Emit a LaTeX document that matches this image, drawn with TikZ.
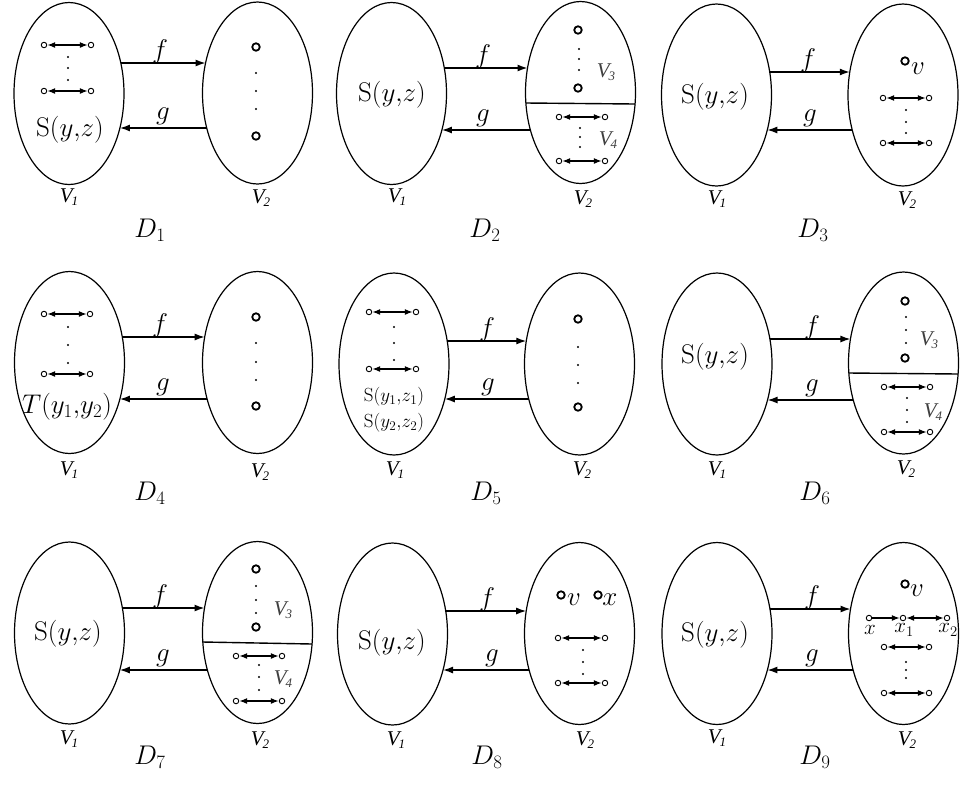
\RequirePackage{fix-cm}
\documentclass[tikz,border=0pt]{standalone}
\usepackage{fontspec}
\newfontfamily\tms{Liberation Serif}
\usetikzlibrary{shapes.geometric,arrows.meta,calc}

\tikzset{
  ell/.style={ellipse,draw,line width=1.2pt,minimum width=110pt,minimum height=182pt,inner sep=0pt},
  farr/.style={line width=1.4pt,-{Latex[length=10pt,width=7pt]}},
  darr/.style={line width=1.3pt,{Latex[length=8pt,width=6pt]}-{Latex[length=8pt,width=6pt]}},
  sarr/.style={line width=1.3pt,-{Latex[length=8pt,width=6pt]}},
  sepl/.style={line width=1.4pt},
  sv/.style={circle,draw,line width=0.9pt,inner sep=0pt,minimum size=5.5pt},
  bv/.style={circle,draw,line width=1.8pt,inner sep=0pt,minimum size=7.5pt},
  bigt/.style={font=\fontsize{27}{29}\selectfont,inner sep=0pt},
  labsm/.style={font=\fontsize{19}{21}\selectfont,inner sep=0pt},
  labx/.style={font=\fontsize{21}{23}\selectfont,inner sep=0pt},
  vl/.style={font={\tms\itshape\fontsize{21}{22}\selectfont},inner sep=0pt},
  vlg/.style={font={\tms\itshape\fontsize{21}{22}\selectfont},inner sep=0pt,text=black!75},
  dl/.style={font=\fontsize{27}{29}\selectfont,inner sep=0pt},
}

\newcommand\VV[1]{V\kern-1pt\raisebox{-0.35ex}{\fontsize{13}{13}\selectfont #1}}
\newcommand\dts[4]{\fill (#1,#2) circle (1.2pt) (#1,#3) circle (1.2pt) (#1,#4) circle (1.2pt);}
\newcommand\dbl[4]{\node[sv] (#1a) at (#2,#4) {}; \node[sv] (#1b) at (#3,#4) {}; \draw[darr] (#1a) -- (#1b);}
\newcommand\skel[9]{%
  \node[ell] (#1L) at (#2,#3) {};
  \node[ell] (#1R) at (#4,#5) {};
  \pgfmathsetmacro\aL{55*sqrt(1-((#6-#3)/91)^2)}%
  \pgfmathsetmacro\aR{55*sqrt(1-((#6-#5)/91)^2)}%
  \pgfmathsetmacro\bL{55*sqrt(1-((#7-#3)/91)^2)}%
  \pgfmathsetmacro\bR{55*sqrt(1-((#7-#5)/91)^2)}%
  \draw[farr] ($(#1L)+(\aL,#6-#3)$) -- ($(#1R)+(-\aR,#6-#5)$);
  \draw[farr] ($(#1R)+(-\bR,#7-#5)$) -- ($(#1L)+(\bL,#7-#3)$);
  \node[bigt] (#1f) at (#8,#6-11) {$f$};
  \node[bigt] (#1g) at (#9,#7-12) {$g$};
}
\newcommand\labs[8]{%
  \node[vl] (#1v1) at (#2,#3) {\VV{1}};
  \node[vl] (#1v2) at (#4,#5) {\VV{2}};
  \node[dl] (#1D) at (#6,#7) {$D_{#8}$};
}
\newcommand\sep[3]{\draw[sepl] ($(#1R)+({-55*sqrt(1-(#2/91)^2)},#2)$) -- ($(#1R)+({55*sqrt(1-(#3/91)^2)},#3)$);}
\newcommand\Syz{$\mathrm{S}(y{,}z)$}

\begin{document}
\begin{tikzpicture}[x=1pt,y=-1pt]
\useasboundingbox (0,0) rectangle (960,788);
\fill[white] (0,0) rectangle (960,788);

% D1
\skel{a}{69}{93.5}{257.5}{93}{63}{128}{160}{163}
\dbl{a1}{44}{91}{45} \dbl{a2}{44}{91}{91}
\dts{68}{57}{68}{80}
\node[bigt] (aS) at (70,130) {\Syz};
\node[bv] (au) at (256,47) {}; \node[bv] (aw) at (256,136) {};
\dts{256}{73}{91}{109}
\labs{a}{69}{197}{261}{198}{150}{230}{1}

% D2
\skel{b}{391.5}{93.5}{580.5}{92.5}{68}{130}{483}{483}
\node[bigt] (bS) at (392,95) {\Syz};
\node[bv] (bu) at (578,30) {}; \node[bv] (bw) at (578,88) {};
\dts{579}{49}{59}{70}
\node[vlg] (bv3) at (606,72) {\VV{3}};
\sep{b}{10.5}{11.5}
\dbl{b1}{559}{605}{117} \dbl{b2}{559}{605}{161}
\dts{580}{128}{137}{147}
\node[vlg] (bv4) at (608,140) {\VV{4}};
\labs{b}{397}{197}{583}{199}{485}{230}{2}

% D3
\skel{c}{716.5}{95}{903}{95}{72}{130}{808}{810}
\node[bigt] (cS) at (715,97) {\Syz};
\node[bv] (cu) at (905,61) {}; \node[bigt] (cvl) at (918,69) {$v$};
\dbl{c1}{883}{929}{98} \dbl{c2}{883}{929}{143}
\dts{906}{110}{122}{133}
\labs{c}{717}{199}{907}{200}{813}{230}{3}

% D4
\skel{d}{69.5}{362.5}{257.5}{362.5}{337}{399}{160}{163}
\dbl{d1}{44}{90}{314} \dbl{d2}{44}{90}{374}
\dts{68}{327}{345}{363}
\node[bigt] (dT) at (67,407) {$T(y_1{,}y_2)$};
\node[bv] (du) at (256,317) {}; \node[bv] (dw) at (256,406) {};
\dts{256}{343}{362}{380}
\labs{d}{69}{470}{260}{472}{150}{493}{4}

% D5
\skel{e}{394}{364}{579.5}{364}{341}{399}{487}{488}
\dbl{e1}{369}{416}{312} \dbl{e2}{369}{416}{369}
\dts{394}{327}{343}{360}
\node[labsm] (eS1) at (394,397) {$\mathrm{S}(y_1{,}z_1)$};
\node[labsm] (eS2) at (394,423) {$\mathrm{S}(y_2{,}z_2)$};
\node[bv] (eu) at (578,319) {}; \node[bv] (ew) at (578,407) {};
\dts{578}{347}{365}{383}
\labs{e}{395}{470}{582}{470}{486}{493}{5}

% D6
\skel{f}{717}{364}{903.5}{363}{339}{400}{812}{812}
\node[bigt] (fS) at (715,357) {\Syz};
\node[bv] (fu) at (905,301) {}; \node[bv] (fw) at (905,358) {};
\dts{906}{317}{330}{343}
\node[vlg] (fv3) at (929,340) {\VV{3}};
\sep{f}{10}{11}
\dbl{f1}{884}{930}{387} \dbl{f2}{884}{930}{432}
\dts{907}{398}{410}{422}
\node[vlg] (fv4) at (933,412) {\VV{4}};
\labs{f}{717}{470}{906}{469}{815}{493}{6}

% D7
\skel{g}{69.5}{633}{257.5}{632.5}{608}{670}{160}{163}
\node[bigt] (gS) at (68,634) {\Syz};
\node[bv] (gu) at (256,569) {}; \node[bv] (gw) at (256,627) {};
\dts{256}{586}{600}{613}
\node[vlg] (gv3) at (283,610) {\VV{3}};
\sep{g}{9.5}{11.5}
\dbl{g1}{236}{282}{656} \dbl{g2}{236}{282}{701}
\dts{259}{665}{677}{690}
\node[vlg] (gv4) at (283,679) {\VV{4}};
\labs{g}{69}{739}{260}{740}{150}{757}{7}

% D8
\skel{h}{392.5}{634}{579.5}{633.5}{611}{670}{487}{492}
\node[bigt] (hS) at (392,643) {\Syz};
\node[bv] (hu) at (561,595) {}; \node[bigt] (hvl) at (574,600) {$v$};
\node[bv] (hx) at (598,595) {}; \node[bigt] (hxl) at (610,600) {$x$};
\dbl{h1}{558}{605}{638} \dbl{h2}{558}{605}{683}
\dts{583}{650}{662}{674}
\labs{h}{396}{740}{585}{740}{487}{757}{8}

% D9
\skel{i}{717}{633.5}{903.5}{633.5}{609}{670}{812}{812}
\node[bigt] (iS) at (715,635) {\Syz};
\node[bv] (iu) at (905,584) {}; \node[bigt] (ivl) at (917,591) {$v$};
\node[sv] (ix) at (869,618) {}; \node[sv] (ix1) at (903,618) {}; \node[sv] (ix2) at (947,618) {};
\draw[sarr] (ix) -- (ix1); \draw[darr] (ix1) -- (ix2);
\node[labx] (ixl) at (870,630) {$x$};
\node[labx] (ix1l) at (904,630) {$x_1$};
\node[labx] (ix2l) at (948,630) {$x_2$};
\dbl{i1}{884}{929}{647} \dbl{i2}{884}{929}{693}
\dts{906}{662}{670}{678}
\labs{i}{717}{738}{907}{740}{815}{757}{9}
\end{tikzpicture}
\end{document}
